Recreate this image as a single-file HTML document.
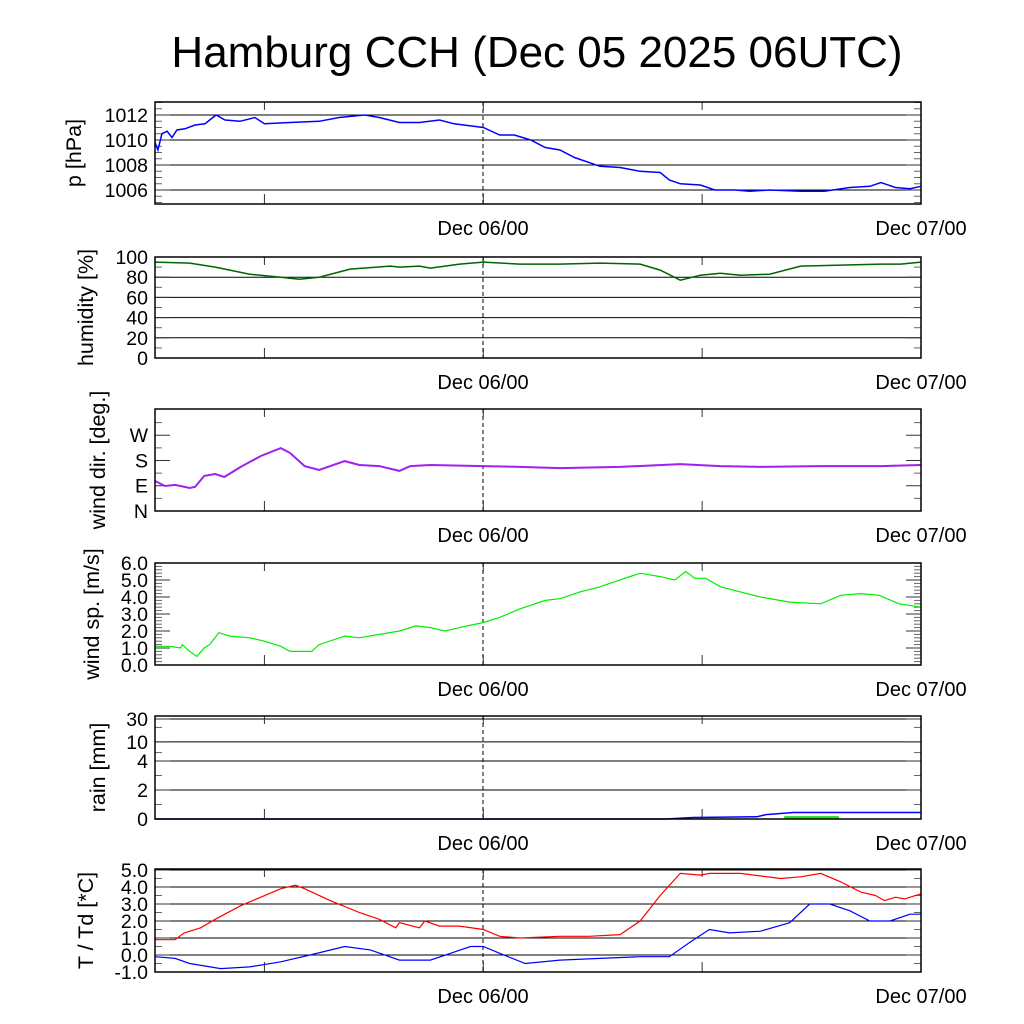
<!DOCTYPE html>
<html><head><meta charset="utf-8"><style>
body{margin:0;background:#fff}
svg{display:block;font-family:"Liberation Sans",sans-serif}
</style></head><body>
<svg id="chart" width="1024" height="1024" viewBox="0 0 1024 1024">
<text x="537" y="67" font-size="44" text-anchor="middle">Hamburg CCH (Dec 05 2025 06UTC)</text>
</svg>
<script>
// ---- data (hours since Dec 05 06UTC) ----
const pressHours=[0,0.16,0.38,0.66,0.93,1.2,1.64,2.2,2.74,3.0,3.35,3.84,4.66,5.48,6.0,7.4,9.0,10.1,11.5,12.3,13.4,14.5,15.6,16.4,18,18.9,19.7,20.6,21.4,22.2,23.0,24.4,25.5,26.6,27.7,28.2,28.8,29.9,30.7,31.8,32.6,33.7,35.4,36.7,38.1,39.2,39.8,40.6,41.4,42];
const pressVals=[1009.8,1009.2,1010.5,1010.7,1010.2,1010.8,1010.9,1011.2,1011.3,1011.6,1012,1011.6,1011.5,1011.8,1011.3,1011.4,1011.5,1011.8,1012,1011.8,1011.4,1011.4,1011.6,1011.3,1011,1010.4,1010.4,1010,1009.4,1009.2,1008.6,1007.9,1007.8,1007.5,1007.4,1006.8,1006.5,1006.4,1006,1006,1005.9,1006,1005.9,1005.9,1006.2,1006.3,1006.6,1006.2,1006.1,1006.3];
const humHours=[0,1.9,3.3,5.2,6.9,7.9,9.0,10.7,12.9,13.4,14.5,15.1,16.7,18,20,22.2,24.4,26.6,27.7,28.8,29.9,31.0,32.1,33.7,35.4,37.6,39.8,40.9,42];
const humVals=[95,94,90,83,80,78,80,88,91,90,91,89,93,95,93,93,94,93,87,77,82,84,82,83,91,92,93,93,95];
const dirHours=[0,0.55,1.1,1.9,2.2,2.7,3.3,3.8,4.7,5.8,6.9,7.4,8.2,9.0,10.4,11.2,12.3,13.4,14.0,15.1,18,20,22.2,25.5,28.8,31,33.2,36.5,39.8,42];
const dirVals=[107,89,93,82,86,125,132,121,157,196,224,207,160,146,178,164,160,143,160,164,160,157,153,157,167,160,157,160,160,164];
const spdHours=[0,0.8,1.4,1.5,1.9,2.3,2.7,3.0,3.5,4.1,5.2,6.0,6.9,7.4,8.6,9.0,10.4,11.2,12.3,13.4,14.3,15.1,15.9,16.7,18,18.9,20,21.4,22.2,23.3,24.4,25.2,26.6,27.7,28.5,29.1,29.6,30.2,31.0,32.1,33.2,34.8,36.5,37.6,38.7,39.7,40.8,42];
const spdVals=[1.1,1.1,1.0,1.2,0.8,0.5,1.0,1.2,1.9,1.7,1.6,1.4,1.1,0.8,0.8,1.2,1.7,1.6,1.8,2.0,2.3,2.2,2.0,2.2,2.5,2.8,3.3,3.8,3.9,4.3,4.6,4.9,5.4,5.2,5.0,5.5,5.1,5.1,4.6,4.3,4.0,3.7,3.6,4.1,4.2,4.1,3.6,3.4];
const rainHours=[0,28,29.5,33,33.5,35,42];
const rainCum=[0,0,0.1,0.15,0.3,0.45,0.45];
const rainBarStart=[28.5,34.5];
const rainBarEnd=[30,37.5];
const rainBarVals=[0.03,0.2];
const tHours=[0,1.1,1.6,2.5,3.3,4.7,5.8,6.9,7.7,8.2,9.6,11.2,12.3,13.2,13.4,14.5,14.8,15.6,16.7,18,18.9,20,22.2,23.8,25.5,26.6,27.7,28.8,29.9,30.4,32.1,34.3,35.4,36.5,37.6,38.7,39.5,40,40.6,41.1,42];
const tVals=[0.9,0.9,1.3,1.6,2.1,2.9,3.4,3.9,4.1,3.9,3.2,2.5,2.1,1.6,1.9,1.6,2.0,1.7,1.7,1.5,1.1,1.0,1.1,1.1,1.2,2.0,3.5,4.8,4.7,4.8,4.8,4.5,4.6,4.8,4.3,3.7,3.5,3.2,3.4,3.3,3.6];
const tdHours=[0,1.1,1.9,3.6,5.2,6.9,8.5,10.4,11.8,13.4,15.1,16.2,17.3,18,18.9,20.3,22.2,24.4,26.6,28.2,29.4,30.4,31.5,33.2,34.8,35.9,37,38.1,39.2,40.3,41.4,42];
const tdVals=[-0.1,-0.2,-0.5,-0.8,-0.7,-0.4,0.0,0.5,0.3,-0.3,-0.3,0.1,0.5,0.5,0.1,-0.5,-0.3,-0.2,-0.1,-0.1,0.8,1.5,1.3,1.4,1.9,3.0,3.0,2.6,2.0,2.0,2.4,2.4];
const pressTicks=[1006,1008,1010,1012];
const humTicks=[0,20,40,60,80,100];
const dirTickVals=[0,90,180,270];
const dirTickLabels=['N','E','S','W'];
const spdTicks=[0,1,2,3,4,5,6];
const rainTicks=[0,2,4,10,30];
const tTicks=[-1,0,1,2,3,4,5];

const NS='http://www.w3.org/2000/svg';
const svg=document.getElementById('chart');
const X0=155,X1=921,HMAX=42;
const xs=h=>X0+h*(X1-X0)/HMAX;
function el(tag,attrs,parent){const e=document.createElementNS(NS,tag);for(const k in attrs)e.setAttribute(k,attrs[k]);(parent||svg).appendChild(e);return e;}
function rainY(v){
  if(v<=4) return 819-v*14.5;
  return 761-(Math.log(v/4)/Math.log(30/4))*42;
}
function panel(o){
  const g=el('g',{});
  
  
  const ys=o.ys;
  (o.grid||[]).forEach(v=>{const l=el('line',{x1:X0,x2:X1,y1:ys(v),y2:ys(v),stroke:'#000','stroke-width':1},g);
    });
  (o.minor||[]).forEach(v=>{const y=ys(v);
    el('line',{x1:X0,x2:X0+7,y1:y,y2:y,stroke:'#666'},g);el('line',{x1:X1-7,x2:X1,y1:y,y2:y,stroke:'#666'},g);});
  o.ticks.forEach((v,i)=>{const y=ys(v);
    el('line',{x1:X0,x2:X0+15,y1:y,y2:y,stroke:'#333'},g);el('line',{x1:X1-15,x2:X1,y1:y,y2:y,stroke:'#333'},g);
    const t=el('text',{x:X0-7,y:y+7,'font-size':19.5,'text-anchor':'end'},g);t.textContent=o.labels?o.labels[i]:o.fmt(v);
    });
  [6,18,30,42].forEach(h=>{el('line',{x1:xs(h),x2:xs(h),y1:o.bot,y2:o.bot-10,stroke:'#333'},g);el('line',{x1:xs(h),x2:xs(h),y1:o.top,y2:o.top+8,stroke:'#333'},g);});
  const d=el('line',{x1:483,x2:483,y1:o.top,y2:o.bot,stroke:'#000','stroke-dasharray':'4,3'},g);
  
  if(o.draw)o.draw(g);
  (o.series||[]).forEach(s=>{const p=el('polyline',{points:s.h.map((h,i)=>xs(h).toFixed(1)+','+ys(s.v[i]).toFixed(1)).join(' '),fill:'none',stroke:s.c,'stroke-width':s.w||1.5},g);
    });
  const f=el('rect',{x:X0,y:o.top,width:X1-X0,height:o.bot-o.top,fill:'none',stroke:'#000','stroke-width':1.5},g);
  
  const yt=el('text',{transform:`translate(${o.tx},${(o.top+o.bot)/2}) rotate(-90)`,'font-size':21.5,'text-anchor':'middle'},g);
  yt.textContent=o.title;
  [[483,'Dec 06/00'],[921,'Dec 07/00']].forEach(([x,s])=>{const t=el('text',{x:x,y:o.bot+31,'font-size':20,'text-anchor':'middle'},g);t.textContent=s;
    });
}
const range=(a,b,s)=>{const r=[];for(let v=a;v<=b+1e-9;v+=s)r.push(+v.toFixed(2));return r;};
panel({name:'pressure',top:102,bot:204,ys:v=>190-(v-1006)*12.5,ticks:pressTicks,grid:pressTicks,minor:range(1005,1013,0.5),fmt:v=>String(v),title:'p [hPa]',tx:81,
  series:[{h:pressHours,v:pressVals,c:'#0000ff',n:'pressure-line'}]});
panel({name:'humidity',top:257,bot:358,ys:v=>358-v*1.01,ticks:humTicks,grid:humTicks,minor:range(10,90,20),fmt:v=>String(v),title:'humidity [%]',tx:93,
  series:[{h:humHours,v:humVals,c:'#006400',n:'humidity-line'}]});
panel({name:'wind-dir',top:409,bot:511,ys:v=>511-v*0.2806,ticks:dirTickVals,labels:dirTickLabels,minor:[45,135,225,315],title:'wind dir. [deg.]',tx:105,
  series:[{h:dirHours,v:dirVals,c:'#a020f0',n:'wind-dir-line',w:2}]});
panel({name:'wind-speed',top:563,bot:665,ys:v=>665-v*17,ticks:spdTicks,minor:range(0,6,0.2),fmt:v=>v.toFixed(1),title:'wind sp. [m/s]',tx:99,
  series:[{h:spdHours,v:spdVals,c:'#00ee00',n:'wind-speed-line',w:1.2}]});
panel({name:'rain',top:716,bot:819,ys:rainY,ticks:rainTicks,grid:[2,4,10,30],minor:[1,3,6,20],fmt:v=>String(v),title:'rain [mm]',tx:105,
  draw:g=>{rainBarVals.forEach((v,i)=>{const r=el('rect',{x:xs(rainBarStart[i]),y:rainY(v),width:xs(rainBarEnd[i])-xs(rainBarStart[i]),height:819-rainY(v),fill:i==0?'#006400':'#22dd22'},g);
    });},
  series:[{h:rainHours,v:rainCum,c:'#0000ff',n:'rain-cumulative-line'}]});
panel({name:'temperature',top:869,bot:972,ys:v=>955-v*17,ticks:tTicks,grid:tTicks,minor:range(-0.5,4.5,1),fmt:v=>v.toFixed(1),title:'T / Td [*C]',tx:93,
  series:[{h:tHours,v:tVals,c:'#ff0000',n:'temperature-line',w:1.2},{h:tdHours,v:tdVals,c:'#0000ff',n:'dewpoint-line',w:1.2}]});
</script>
</body></html>
